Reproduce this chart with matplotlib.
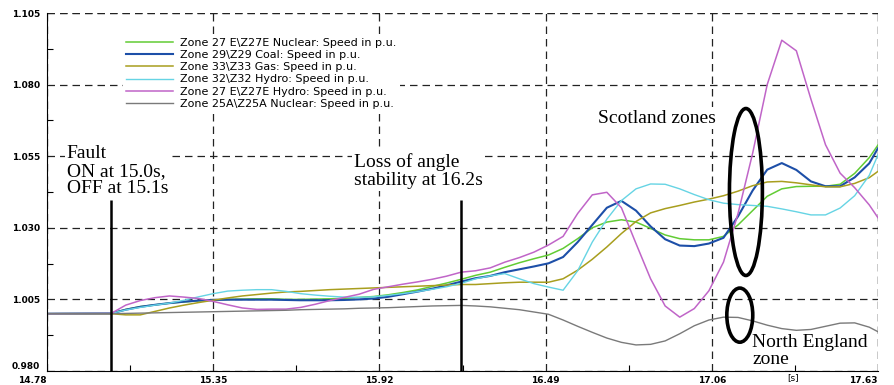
import numpy as np
import matplotlib.pyplot as plt
from matplotlib.patches import Ellipse

# time base: steady state before the fault, then 50 ms samples up to the end of the run
t = np.concatenate(([14.78], np.round(np.arange(15.00, 17.601, 0.05), 2), [17.63]))

# generator rotor speeds (p.u.)
z27e_nuclear = [1.0000,
    1.0001, 1.0015, 1.0025, 1.0031, 1.0037, 1.0041, 1.0045, 1.0048, 1.0050, 1.0051,
    1.0052, 1.0052, 1.0050, 1.0050, 1.0051, 1.0052, 1.0054, 1.0057, 1.0060, 1.0066,
    1.0074, 1.0083, 1.0095, 1.0107, 1.0120, 1.0134, 1.0145, 1.0162, 1.0178, 1.0192,
    1.0205, 1.0228, 1.0262, 1.0300, 1.0320, 1.0328, 1.0320, 1.0298, 1.0275, 1.0262,
    1.0258, 1.0258, 1.0270, 1.0310, 1.0360, 1.0410, 1.0436, 1.0444, 1.0445, 1.0445,
    1.0452, 1.0490, 1.0545, 1.0589]
z29_coal = [1.0000,
    1.0001, 1.0014, 1.0024, 1.0031, 1.0037, 1.0042, 1.0046, 1.0048, 1.0049, 1.0049,
    1.0049, 1.0049, 1.0048, 1.0047, 1.0047, 1.0047, 1.0048, 1.0050, 1.0053, 1.0059,
    1.0068, 1.0077, 1.0087, 1.0099, 1.0112, 1.0124, 1.0132, 1.0145, 1.0155, 1.0165,
    1.0176, 1.0198, 1.0250, 1.0310, 1.0370, 1.0394, 1.0360, 1.0305, 1.0260, 1.0238,
    1.0236, 1.0245, 1.0265, 1.0340, 1.0430, 1.0503, 1.0526, 1.0502, 1.0462, 1.0445,
    1.0445, 1.0476, 1.0525, 1.0578]
z33_gas = [1.0000,
    1.0000, 0.9996, 0.9996, 1.0008, 1.0020, 1.0030, 1.0039, 1.0047, 1.0055, 1.0062,
    1.0067, 1.0072, 1.0076, 1.0078, 1.0081, 1.0084, 1.0086, 1.0088, 1.0090, 1.0092,
    1.0094, 1.0096, 1.0098, 1.0100, 1.0102, 1.0102, 1.0105, 1.0108, 1.0110, 1.0110,
    1.0110, 1.0122, 1.0152, 1.0190, 1.0233, 1.0280, 1.0322, 1.0352, 1.0367, 1.0378,
    1.0390, 1.0400, 1.0412, 1.0428, 1.0447, 1.0460, 1.0462, 1.0457, 1.0450, 1.0443,
    1.0443, 1.0455, 1.0475, 1.0497]
z32_hydro = [1.0000,
    1.0001, 1.0013, 1.0022, 1.0030, 1.0037, 1.0047, 1.0059, 1.0070, 1.0079, 1.0082,
    1.0084, 1.0084, 1.0078, 1.0070, 1.0065, 1.0061, 1.0058, 1.0057, 1.0059, 1.0064,
    1.0070, 1.0077, 1.0085, 1.0094, 1.0106, 1.0122, 1.0132, 1.0140, 1.0122, 1.0105,
    1.0093, 1.0082, 1.0150, 1.0250, 1.0330, 1.0395, 1.0436, 1.0453, 1.0452, 1.0436,
    1.0416, 1.0398, 1.0386, 1.0381, 1.0378, 1.0375, 1.0366, 1.0356, 1.0345, 1.0345,
    1.0369, 1.0412, 1.0483, 1.0555]
z27e_hydro = [1.0000,
    1.0001, 1.0030, 1.0046, 1.0056, 1.0062, 1.0058, 1.0053, 1.0043, 1.0031, 1.0020,
    1.0015, 1.0016, 1.0016, 1.0022, 1.0033, 1.0046, 1.0057, 1.0068, 1.0085, 1.0094,
    1.0103, 1.0111, 1.0120, 1.0131, 1.0145, 1.0150, 1.0160, 1.0180, 1.0196, 1.0215,
    1.0240, 1.0270, 1.0350, 1.0415, 1.0424, 1.0370, 1.0245, 1.0122, 1.0027, 0.9988,
    1.0018, 1.0080, 1.0180, 1.0350, 1.0560, 1.0800, 1.0955, 1.0918, 1.0749, 1.0590,
    1.0491, 1.0440, 1.0380, 1.0335]
z25a_nuclear = [1.0000,
    1.0000, 1.0001, 1.0002, 1.0003, 1.0004, 1.0005, 1.0006, 1.0007, 1.0008, 1.0009,
    1.0010, 1.0011, 1.0012, 1.0014, 1.0015, 1.0016, 1.0017, 1.0019, 1.0020, 1.0021,
    1.0023, 1.0025, 1.0027, 1.0028, 1.0029, 1.0027, 1.0024, 1.0019, 1.0014, 1.0006,
    0.9998, 0.9978, 0.9956, 0.9935, 0.9915, 0.9900, 0.9891, 0.9893, 0.9905, 0.9930,
    0.9958, 0.9978, 0.9988, 0.9987, 0.9975, 0.9960, 0.9948, 0.9942, 0.9945, 0.9956,
    0.9967, 0.9968, 0.9953, 0.9937]

labels = [r"Zone 27 E\Z27E Nuclear: Speed in p.u.",
          r"Zone 29\Z29 Coal: Speed in p.u.",
          r"Zone 33\Z33 Gas: Speed in p.u.",
          r"Zone 32\Z32 Hydro: Speed in p.u.",
          r"Zone 27 E\Z27E Hydro: Speed in p.u.",
          r"Zone 25A\Z25A Nuclear: Speed in p.u."]
series = [z27e_nuclear, z29_coal, z33_gas, z32_hydro, z27e_hydro, z25a_nuclear]
colors = ["#62cc34", "#1d4fa8", "#a89e1e", "#66d4e4", "#c065c8", "#7a7a7a"]
widths = [1.1, 1.5, 1.1, 1.0, 1.1, 1.0]

xticks = [14.78, 15.35, 15.92, 16.49, 17.06, 17.63]
yticks = [0.980, 1.005, 1.030, 1.055, 1.080, 1.105]

fault_time = 15.0
loss_time = 16.2

serif = "Liberation Serif"
grid_style = dict(color="#222222", lw=0.9, linestyle=(0, (6, 4)))

fig = plt.figure(figsize=(8.94, 3.85), dpi=100)
ax = fig.add_axes([0.0526, 0.0364, 0.9295, 0.9298])

for y, c, lw, lab in zip(series, colors, widths, labels):
    ax.plot(t, y, color=c, lw=lw, label=lab, zorder=2)

ax.set_xlim(xticks[0], xticks[-1])
ax.set_ylim(yticks[0], yticks[-1])
ax.set_xticks(xticks)
ax.set_yticks(yticks)
ax.set_xticklabels([f"{v:.2f}" for v in xticks])
ax.set_yticklabels([f"{v:.3f}" for v in yticks])
ax.set_xticks([(a + b) / 2 for a, b in zip(xticks[:-1], xticks[1:])], minor=True)
ax.set_yticks([(a + b) / 2 for a, b in zip(yticks[:-1], yticks[1:])], minor=True)
ax.tick_params(which="major", direction="in", length=0, labelsize=6.5)
ax.tick_params(axis="x", which="major", pad=3.5)
ax.tick_params(axis="y", which="major", pad=5)
ax.tick_params(which="minor", direction="in", length=4, width=0.8)
for lab in ax.get_xticklabels() + ax.get_yticklabels():
    lab.set_fontweight("bold")
# end labels sit inside the frame edges
xl = ax.get_xticklabels()
xl[0].set_ha("right")
xl[-1].set_ha("right")
ax.get_yticklabels()[0].set_va("bottom")

ax.set_axisbelow(True)
ax.grid(True, which="major", **grid_style)
for s in ["top", "right"]:
    ax.spines[s].set_visible(False)
ax.axhline(yticks[-1], zorder=1, **grid_style)
ax.axvline(xticks[-1], zorder=1, **grid_style)

ax.text(17.34, -0.0196, "[s]", transform=ax.get_xaxis_transform(),
        fontsize=6.5, ha="center", va="center")

leg = ax.legend(loc="upper left", bbox_to_anchor=(0.091, 0.94), fontsize=8.0,
                frameon=True, facecolor="white", edgecolor="none", framealpha=1,
                handlelength=4.2, handletextpad=0.7, labelspacing=0.2,
                borderpad=0.3, borderaxespad=0)
leg.set_zorder(3)

# fault and instability markers
ax.vlines(fault_time, yticks[0], 1.0397, color="black", lw=1.8, zorder=4)
ax.vlines(loss_time, yticks[0], 1.0397, color="black", lw=1.8, zorder=4)

box = dict(facecolor="white", edgecolor="none", pad=1.5)
ax.text(14.848, 1.0588, "Fault\nON at 15.0s,\nOFF at 15.1s", family=serif,
        fontsize=14, ha="left", va="top", linespacing=1.03, bbox=box, zorder=3)
ax.text(15.834, 1.0560, "Loss of angle\nstability at 16.2s", family=serif,
        fontsize=14, ha="left", va="top", linespacing=1.03, bbox=box, zorder=3)
ax.text(16.669, 1.0683, "Scotland zones", family=serif, fontsize=14,
        ha="left", va="center", bbox=box, zorder=3)
ax.text(17.198, 0.9930, "North England\nzone", family=serif, fontsize=14,
        ha="left", va="top", linespacing=1.05, zorder=3)

# groups of machines
ax.add_patch(Ellipse((17.177, 1.0425), 0.113, 0.0583, fill=False,
                     edgecolor="black", lw=2.6, zorder=5))
ax.add_patch(Ellipse((17.156, 0.9995), 0.089, 0.0189, fill=False,
                     edgecolor="black", lw=2.6, zorder=5))

fig.savefig("out.png", dpi=100)
